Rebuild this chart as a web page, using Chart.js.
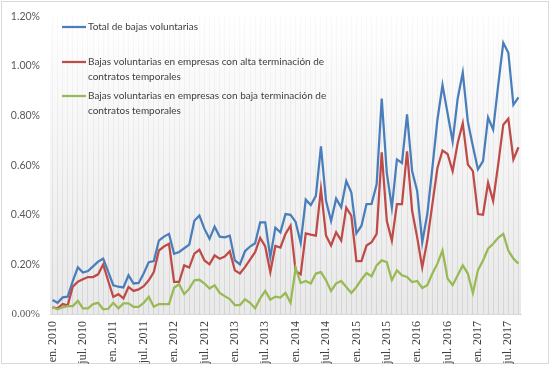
<!DOCTYPE html>
<html><head><meta charset="utf-8">
<script src="https://cdn.jsdelivr.net/npm/chart.js@4.4.1/dist/chart.umd.min.js"></script>
<style>html,body{margin:0;padding:0;background:#fff;}</style>
</head><body>
<canvas id="c" width="550" height="365"></canvas>
<script>
const monthAbbr = ['en.','feb.','mar.','abr.','may.','jun.','jul.','ago.','sep.','oct.','nov.','dic.'];
const startYear = 2010;
const nMonths = 93;
const categories = [];
for (let i = 0; i < nMonths; i++) categories.push(monthAbbr[i % 12] + ' ' + (startYear + Math.floor(i / 12)));

// values in %
const total = [0.056,0.045,0.067,0.070,0.133,0.188,0.167,0.173,0.192,0.211,0.223,0.170,
0.116,0.110,0.107,0.156,0.123,0.125,0.163,0.209,0.213,0.296,0.312,0.323,
0.243,0.250,0.265,0.280,0.376,0.397,0.343,0.303,0.352,0.312,0.309,0.316,
0.216,0.200,0.253,0.272,0.285,0.369,0.369,0.229,0.348,0.329,0.403,0.400,
0.371,0.287,0.461,0.439,0.476,0.676,0.456,0.375,0.465,0.430,0.536,0.490,
0.325,0.356,0.443,0.444,0.523,0.868,0.570,0.429,0.623,0.609,0.805,0.576,
0.496,0.289,0.403,0.589,0.783,0.923,0.809,0.696,0.869,0.973,0.776,0.676,
0.583,0.616,0.792,0.743,0.923,1.093,1.053,0.843,0.873];
const alta = [0.027,0.023,0.040,0.035,0.110,0.130,0.140,0.149,0.149,0.160,0.200,0.133,
0.069,0.080,0.063,0.109,0.093,0.099,0.112,0.136,0.169,0.256,0.272,0.283,
0.129,0.129,0.196,0.187,0.243,0.259,0.216,0.200,0.236,0.223,0.232,0.253,
0.176,0.163,0.189,0.219,0.249,0.307,0.272,0.169,0.274,0.268,0.323,0.356,
0.173,0.160,0.325,0.320,0.316,0.503,0.316,0.276,0.329,0.296,0.429,0.396,
0.213,0.213,0.276,0.289,0.323,0.652,0.376,0.296,0.443,0.443,0.656,0.416,
0.309,0.188,0.296,0.443,0.589,0.659,0.645,0.576,0.689,0.769,0.603,0.576,
0.403,0.400,0.529,0.456,0.603,0.763,0.787,0.623,0.672];
const baja = [0.027,0.019,0.027,0.032,0.032,0.053,0.023,0.023,0.040,0.045,0.019,0.021,
0.045,0.023,0.043,0.043,0.029,0.029,0.045,0.069,0.029,0.040,0.040,0.040,
0.106,0.120,0.080,0.102,0.136,0.138,0.123,0.103,0.116,0.085,0.072,0.060,
0.036,0.036,0.059,0.045,0.023,0.063,0.093,0.058,0.070,0.066,0.085,0.045,
0.185,0.125,0.133,0.123,0.163,0.169,0.136,0.093,0.123,0.133,0.109,0.085,
0.109,0.139,0.165,0.152,0.196,0.216,0.209,0.136,0.176,0.156,0.149,0.129,
0.133,0.105,0.116,0.163,0.203,0.256,0.143,0.116,0.156,0.196,0.163,0.085,
0.176,0.216,0.263,0.283,0.307,0.323,0.256,0.223,0.203];

const seriesNames = [
  'Total de bajas voluntarias',
  'Bajas voluntarias en empresas con alta terminación de contratos temporales',
  'Bajas voluntarias en empresas con baja terminación de contratos temporales'
];
const legendLines = [
  ['Total de bajas voluntarias'],
  ['Bajas voluntarias en empresas con alta terminación de', 'contratos temporales'],
  ['Bajas voluntarias en empresas con baja terminación de', 'contratos temporales']
];
const colors = ['#4a7ebb', '#be4b48', '#98b954'];
const yMin = 0, yMax = 1.2, yStep = 0.2;
const labelEvery = 6;

const frame = {
  id: 'frame',
  beforeDraw(chart) {
    const ctx = chart.ctx, a = chart.chartArea;
    ctx.save();
    ctx.fillStyle = '#ffffff';
    ctx.fillRect(0, 0, chart.width, chart.height);
    const g = ctx.createLinearGradient(0, a.top, 0, a.bottom);
    g.addColorStop(0, '#ffffff');
    g.addColorStop(0.12, '#fcfcfc');
    g.addColorStop(1, '#e9e9e9');
    ctx.fillStyle = g;
    ctx.fillRect(a.left, a.top, a.right - a.left, a.bottom - a.top);
    ctx.strokeStyle = '#d9d9d9';
    ctx.lineWidth = 1;
    ctx.strokeRect(1.5, 1.5, chart.width - 3, chart.height - 3);
    ctx.restore();
  },
  afterDraw(chart) {
    const ctx = chart.ctx;
    ctx.save();
    const ys = [27, 62, 96];
    ctx.font = '10px Lato, "Open Sans", sans-serif';
    ctx.textBaseline = 'middle';
    ctx.textAlign = 'left';
    legendLines.forEach((lines, i) => {
      ctx.strokeStyle = colors[i];
      ctx.lineWidth = 2.25;
      ctx.beginPath();
      ctx.moveTo(62, ys[i]);
      ctx.lineTo(86, ys[i]);
      ctx.stroke();
      ctx.fillStyle = '#404040';
      lines.forEach((t, j) => ctx.fillText(t, 88, ys[i] + j * 14.5));
    });
    ctx.restore();
  }
};

function gridColor(c) {
  const chart = c.chart, a = chart.chartArea;
  if (!a) return 'rgba(0,0,0,0.06)';
  const g = chart.ctx.createLinearGradient(0, a.top, 0, a.bottom);
  g.addColorStop(0, 'rgba(0,0,0,0.02)');
  g.addColorStop(1, 'rgba(0,0,0,0.09)');
  return g;
}

new Chart(document.getElementById('c'), {
  type: 'line',
  data: {
    labels: categories,
    datasets: [
      { label: seriesNames[0], data: total, borderColor: colors[0], order: 3 },
      { label: seriesNames[1], data: alta, borderColor: colors[1], order: 2 },
      { label: seriesNames[2], data: baja, borderColor: colors[2], order: 1 }
    ]
  },
  options: {
    responsive: false,
    animation: false,
    devicePixelRatio: 1,
    elements: {
      line: { borderWidth: 2.25, tension: 0, fill: false },
      point: { radius: 0 }
    },
    layout: { padding: { top: 2, right: 29, left: 0, bottom: 0 } },
    plugins: { legend: { display: false }, tooltip: { enabled: false } },
    scales: {
      x: {
        offset: true,
        grid: { color: gridColor, drawTicks: false, offset: false },
        border: { color: '#d9d9d9' },
        afterFit(s) { s.height = 51; },
        ticks: {
          autoSkip: false, minRotation: 90, maxRotation: 90, padding: 7,
          color: '#404040',
          font: { family: '"Liberation Serif", "Times New Roman", serif', size: 12 },
          callback(v, i) { return i % labelEvery === 0 ? categories[i] : ''; }
        }
      },
      y: {
        min: yMin, max: yMax,
        grid: { display: false, drawTicks: false },
        border: { display: false },
        afterFit(s) { s.width = 50; },
        ticks: {
          stepSize: yStep, padding: 10, color: '#595959',
          font(c) {
            return c.tick && c.tick.value === 0
              ? { family: '"Liberation Serif", serif', size: 11 }
              : { family: 'Lato, "Open Sans", sans-serif', size: 10.5 };
          },
          callback(v) { return v.toFixed(2) + '%'; }
        }
      }
    }
  },
  plugins: [frame]
});
</script>
</body></html>
